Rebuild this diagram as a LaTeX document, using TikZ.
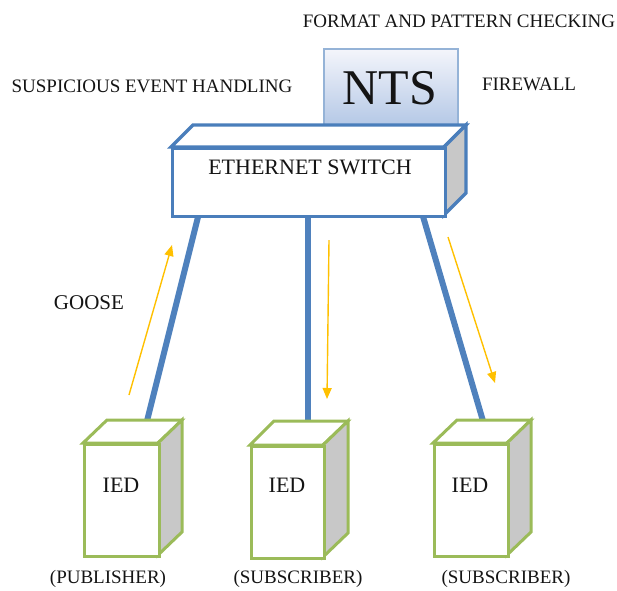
\documentclass[tikz,border=0pt]{standalone}
\usepackage{fontspec}
\setmainfont{Liberation Serif}
\usetikzlibrary{arrows.meta,calc}
\definecolor{swblue}{HTML}{4A7EBB}
\definecolor{linkblue}{HTML}{4F81BD}
\definecolor{iedgreen}{HTML}{9BBB59}
\definecolor{sidegray}{HTML}{C8C8C8}
\definecolor{flowyellow}{HTML}{FFC000}
\definecolor{ntsborder}{HTML}{95B3D7}
\definecolor{ntstop}{HTML}{F4F5FB}
\definecolor{ntsbot}{HTML}{B4C8E6}
\tikzset{
  lbl/.style={font=\fontsize{19}{21}\selectfont, inner sep=0pt, text=black!92},
  biglbl/.style={font=\fontsize{22}{24}\selectfont, inner sep=0pt, text=black!92},
  swface/.style={draw=swblue, line width=3.3pt, fill=white, line join=miter},
  swside/.style={draw=swblue, line width=3.3pt, fill=sidegray},
  iedface/.style={draw=iedgreen, line width=3pt, fill=white},
  iedside/.style={draw=iedgreen, line width=3pt, fill=sidegray},
  link/.style={draw=linkblue, line width=6pt},
  flow/.style={draw=flowyellow, line width=1.4pt, -{Triangle[width=9pt,length=11pt]}},
}
\begin{document}
\begin{tikzpicture}[x=1pt,y=-1pt]
\useasboundingbox (0,0) rectangle (617,590);
% texts top
\node[lbl] (fmt) at (459,21) {FORMAT AND PATTERN CHECKING};
\node[lbl] (susp) at (152,86) {SUSPICIOUS EVENT HANDLING};
\node[lbl] (fw) at (529,84) {FIREWALL};
% NTS box
\node[draw=ntsborder, line width=1.5pt, top color=ntstop, bottom color=ntsbot,
      minimum width=134pt, minimum height=77pt, anchor=north west, inner sep=0pt] (nts) at (323,48) {};
\node[font=\fontsize{50}{51}\selectfont, inner sep=0pt, text=black!92] (ntstxt) at (390,88) {NTS};
% links (drawn under the boxes)
\coordinate (s1) at (199,213);
\coordinate (s2) at (308,213);
\coordinate (s3) at (422,213);
\coordinate (d1) at (147,421);
\coordinate (d2) at (308,421);
\coordinate (d3) at (483,421);
\draw[link] (s1) -- (d1);
\draw[link] (s2) -- (d2);
\draw[link] (s3) -- (d3);
% ethernet switch
\draw[swface] (171,147) -- (193,125) -- (466,125) -- (444,147) -- cycle;
\draw[swside] (444,147) -- (466,125) -- (466,193) -- (444,215) -- cycle;
\node[swface, minimum width=273pt, minimum height=68pt, anchor=north west, inner sep=0pt] (sw) at (171,147) {};
\node[biglbl] (swtxt) at (310,167) {ETHERNET SWITCH};
% IED 1
\draw[iedface] (83,443) -- (107,420) -- (182,420) -- (158,443) -- cycle;
\draw[iedside] (158,443) -- (182,420) -- (182,532) -- (158,555) -- cycle;
\node[iedface, minimum width=75pt, minimum height=112pt, anchor=north west, inner sep=0pt] (ied1) at (83,443) {};
\node[biglbl] (ied1t) at (121,485) {IED};
% IED 2
\draw[iedface] (250,445) -- (274,421) -- (348,421) -- (323,445) -- cycle;
\draw[iedside] (323,445) -- (348,421) -- (348,533) -- (323,557) -- cycle;
\node[iedface, minimum width=73pt, minimum height=112pt, anchor=north west, inner sep=0pt] (ied2) at (250,445) {};
\node[biglbl] (ied2t) at (287,485) {IED};
% IED 3
\draw[iedface] (433,443) -- (457,420) -- (531,420) -- (507,443) -- cycle;
\draw[iedside] (507,443) -- (531,420) -- (531,532) -- (507,555) -- cycle;
\node[iedface, minimum width=74pt, minimum height=112pt, anchor=north west, inner sep=0pt] (ied3) at (433,443) {};
\node[biglbl] (ied3t) at (470,485) {IED};
% role labels
\node[lbl] (pub) at (108,579) {(PUBLISHER)};
\node[lbl] (sub1) at (298,579) {(SUBSCRIBER)};
\node[lbl] (sub2) at (506,579) {(SUBSCRIBER)};
% goose flows
\node[font=\fontsize{21}{23}\selectfont, inner sep=0pt, text=black!92] (goose) at (89,303) {GOOSE};
\coordinate (a1s) at (129,395);
\coordinate (a1e) at (172,245);
\coordinate (a2s) at (329,240);
\coordinate (a2e) at (327,399);
\coordinate (a3s) at (448,237);
\coordinate (a3e) at (495,383);
\draw[flow] (a1s) -- (a1e);
\draw[flow] (a2s) -- (a2e);
\draw[flow] (a3s) -- (a3e);
\end{tikzpicture}
\end{document}
